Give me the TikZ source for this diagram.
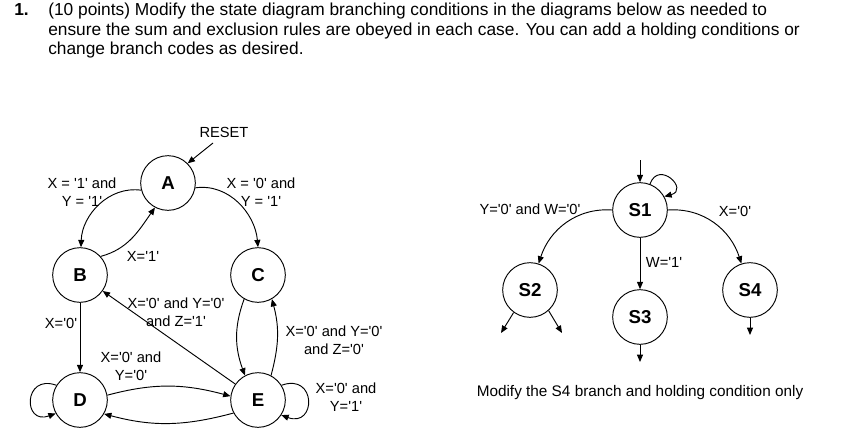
\documentclass[tikz,border=0pt]{standalone}
\usepackage{fontspec}
\setmainfont{Liberation Sans}
\usetikzlibrary{arrows.meta, positioning}
\newcommand{\sq}{\textquotesingle}

\begin{document}
\begin{tikzpicture}[x=0.75pt, y=0.75pt,
    state/.style={draw, circle, line width=0.7pt, minimum size=41pt, inner sep=0pt,
                  font=\fontsize{14}{16}\selectfont\bfseries},
    arr/.style={-{Triangle[length=5.5pt,width=4.5pt]}, line width=0.7pt},
    lbl/.style={font=\fontsize{11}{13.5}\selectfont, align=center, inner sep=0pt}
  ]
  \useasboundingbox (0,0) rectangle (842,-446);
  \node[anchor=north west, inner sep=0pt, font=\fontsize{13}{14.6}\selectfont\bfseries] (num) at (14,-3) {1.};
  \node[anchor=north west, inner sep=0pt, align=left, font=\fontsize{13}{14.6}\selectfont] (task) at (48,-3)
    {(10 points) Modify the state diagram branching conditions in the diagrams below as needed to\\
     ensure the sum and exclusion rules are obeyed in each case. You can add a holding conditions or\\
     change branch codes as desired.};

  \node[state] (A) at (168,-183) {A};
  \node[state] (B) at (80,-275)  {B};
  \node[state] (C) at (258,-275) {C};
  \node[state] (D) at (80,-400)  {D};
  \node[state] (E) at (258,-400) {E};
  \node[lbl] (reset) at (224,-132) {RESET};
  \coordinate (rst) at (213,-143);

  \draw[arr] (rst) -- (A.45);
  \draw[arr] (A.195) to[out=172, in=88] (B.88);
  \draw[arr] (B.42) to[out=15, in=235] (A.242);
  \draw[arr] (A.350) to[out=8, in=95] (C.90);
  \draw[arr] (B) -- (D);
  \draw[arr] (E) -- (B);
  \draw[arr] (C.240) to[out=250, in=110] (E.118);
  \draw[arr] (E.62) to[out=75, in=-75] (C.300);
  \draw[arr] (D.10) to[out=15, in=165] (E.172);
  \draw[arr] (E.208) to[out=195, in=-15] (D.330);
  \draw[arr] (D.148) to[out=160, in=200, looseness=3.2] (D.209);
  \draw[arr] (E.32) to[out=20, in=-20, looseness=3.2] (E.-33);

  \node[lbl] (ab) at (82,-192)  {X = \sq1\sq{} and\\Y = \sq1\sq};
  \node[lbl] (ac) at (261,-192) {X = \sq0\sq{} and\\Y = \sq1\sq};
  \node[lbl] (ba) at (143,-256) {X=\sq1\sq};
  \node[lbl] (bd) at (61,-323)  {X=\sq0\sq};
  \node[lbl] (eb) at (176,-312) {X=\sq0\sq{} and Y=\sq0\sq\\and Z=\sq1\sq};
  \node[lbl] (ec) at (334,-340) {X=\sq0\sq{} and Y=\sq0\sq\\and Z=\sq0\sq};
  \node[lbl] (de) at (131,-366) {X=\sq0\sq{} and\\Y=\sq0\sq};
  \node[lbl] (ee) at (346,-397) {X=\sq0\sq{} and\\Y=\sq1\sq};

  \node[state] (S1) at (640,-210) {S1};
  \node[state] (S2) at (530,-290) {S2};
  \node[state] (S3) at (640,-317) {S3};
  \node[state] (S4) at (750,-290) {S4};
  \coordinate (s1in) at (640,-160);
  \coordinate (s2a) at (501,-333);
  \coordinate (s2b) at (562,-333);
  \coordinate (s3out) at (640,-362);
  \coordinate (s4out) at (750,-335);

  \draw[arr] (s1in) -- (S1);
  \draw[arr] (S1.69) to[out=70, in=15, looseness=3.5] (S1.29);
  \draw[arr] (S1.180) to[out=176, in=72] (S2.72);
  \draw[arr] (S1) -- (S3);
  \draw[arr] (S1.0) to[out=4, in=108] (S4.108);
  \draw[arr] (S2.234) -- (s2a);
  \draw[arr] (S2.-48) -- (s2b);
  \draw[arr] (S3) -- (s3out);
  \draw[arr] (S4) -- (s4out);

  \node[lbl] (s12) at (530,-209) {Y=\sq0\sq{} and W=\sq0\sq};
  \node[lbl] (s13) at (664,-262) {W=\sq1\sq};
  \node[lbl] (s14) at (735,-211) {X=\sq0\sq};
  \node[lbl, font=\fontsize{11.5}{13.5}\selectfont] (note) at (640,-393) {Modify the S4 branch and holding condition only};
\end{tikzpicture}
\end{document}
